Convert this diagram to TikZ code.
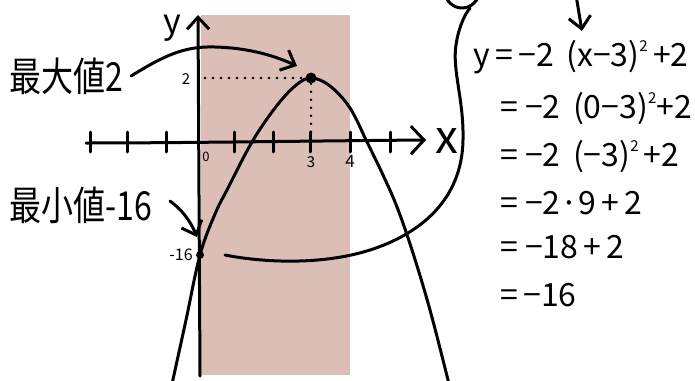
\documentclass[tikz,border=0pt]{standalone}
\usepackage{fontspec}
\setmainfont{Noto Sans CJK JP}
\usetikzlibrary{arrows.meta}
\definecolor{shadebg}{RGB}{219,191,182}
\newcommand\mysq{\raisebox{0.85ex}{\fontsize{15}{15}\selectfont 2}}
\begin{document}
\begin{tikzpicture}[x=1pt,y=-1pt,line cap=round,line join=round,
  ink/.style={line width=3pt},
  tip/.style={-{Straight Barb[length=12pt,width=22pt]}},
  dotline/.style={line width=2.8pt,dash pattern=on 0pt off 8pt},
  dotnode/.style={circle,fill=black,inner sep=0pt,minimum size=#1},
  eq/.style={anchor=base west,inner sep=0pt,font=\fontsize{32}{32}\selectfont},
  big/.style={anchor=west,inner sep=0pt,font=\fontsize{40}{40}\selectfont},
  ticklbl/.style={inner sep=0pt,font=\fontsize{15}{15}\selectfont}]
\clip (0,0) rectangle (695,380);
\useasboundingbox (0,0) rectangle (695,380);
% shaded band
\fill[shadebg] (201,15) rectangle (350,375);
% axes
\coordinate (yb) at (200,376);
\coordinate (yt) at (198,15);
\draw[ink,-{Straight Barb[length=12pt,width=22pt]}] (yb) -- (yt);
\coordinate (xl) at (86,143);
\coordinate (xr) at (426,140);
\draw[ink,-{Straight Barb[length=13pt,width=28pt]}] (xl) .. controls (180,143) and (300,141) .. (xr);
\foreach \t in {90,127,166,234,273,310,350,390}{
  \draw[ink] (\t,132) -- (\t,152);
}
\node[inner sep=0pt,font=\fontsize{34}{34}\selectfont] (ylab) at (172,28) {y};
\node[inner sep=0pt,font=\fontsize{46}{46}\selectfont] (xlab) at (447,141) {x};
% tick labels
\node[ticklbl,font=\fontsize{13}{13}\selectfont] (l0) at (206,157) {0};
\node[ticklbl] (l3) at (311,162) {3};
\node[ticklbl,font=\fontsize{17}{17}\selectfont] (l4) at (350,161) {4};
\node[ticklbl] (l2) at (186,79) {2};
\node[ticklbl,font=\fontsize{16}{16}\selectfont] (lm16) at (181,255) {-16};
% parabola
\draw[ink] plot[smooth,tension=0.6] coordinates {(172,384) (186,320) (200,255) (215,214) (228,188) (252,142) (275,108) (295,86) (311,78) (330,86) (350,108) (367,142) (383,175) (397,207) (412,250) (430,310) (449,384)};
% special points
\node[dotnode=11pt] (vtx) at (311,78) {};
\node[dotnode=8pt] (ymin) at (200,255) {};
\coordinate (d1) at (205,78);
\coordinate (d2) at (311,134);
\draw[dotline] (d1) -- (vtx);
\draw[dotline] (vtx) -- (d2);
% labels with arrows
\node[big] (maxl) at (9,76) {\scalebox{0.8}[1]{最大値2}};
\node[big] (minl) at (9,205) {\scalebox{0.8}[1]{最小値-16}};
\coordinate (maxend) at (297,66);
\coordinate (minend) at (197,237);
\draw[ink,tip] ([xshift=8pt]maxl.east) .. controls (165,55) and (185,46) .. (215,47) .. controls (250,48) and (275,56) .. (maxend);
\coordinate (minstart) at (170,201);
\draw[ink,tip] (minstart) .. controls (181,209) and (190,220) .. (minend);
% long connector
\coordinate (cs) at (225,255);
\coordinate (ce) at (470,8);
\draw[ink] (cs) .. controls (260,262) and (320,266) .. (370,250) .. controls (420,234) and (462,200) .. (463,140) .. controls (464,100) and (452,70) .. (456,45) .. controls (458,30) and (464,15) .. (ce);
\node[circle,draw,line width=3pt,minimum size=34pt,inner sep=0pt] (circ) at (462,-9) {};
% top arrow
\coordinate (ta) at (576,-5);
\coordinate (tb) at (582,31);
\draw[ink,tip] (ta) -- (tb);
% equations
\node[eq] (e1) at (473,66) {y\,=\,−2\, (x−3)\mysq\,+2};
\node[eq] (e2) at (500,118) {= −2\, (0−3)\mysq+2};
\node[eq] (e3) at (500,166) {= −2\, (−3)\mysq\,+2};
\node[eq] (e4) at (500,214) {= −2·9\,+\,2};
\node[eq] (e5) at (500,258) {= −18\,+\,2};
\node[eq] (e6) at (500,306) {=\,−16};
\end{tikzpicture}
\end{document}
